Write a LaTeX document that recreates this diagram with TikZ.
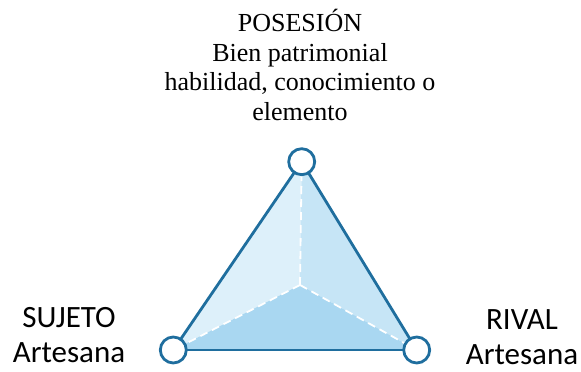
\documentclass[tikz,border=0pt]{standalone}
\usepackage{fontspec}
\setmainfont{Liberation Serif}
\newfontfamily\calib{Carlito}
\definecolor{edgeblue}{HTML}{1F6E9E}
\definecolor{faceA}{HTML}{DDF0FA}
\definecolor{faceB}{HTML}{C6E5F6}
\definecolor{faceC}{HTML}{A9D7F1}
\tikzset{
  vert/.style={circle,draw=edgeblue,fill=white,line width=2.8pt,minimum size=26pt,inner sep=0pt},
  side/.style={draw=edgeblue,line width=2.8pt},
  seam/.style={white,line width=1.8pt,dash pattern=on 8pt off 5pt},
  lbl/.style={font=\calib\fontsize{31}{35}\selectfont,align=center},
  toplbl/.style={font=\fontsize{26}{29.5}\selectfont,align=center}
}
\begin{document}
\begin{tikzpicture}[x=1pt,y=1pt]
      \useasboundingbox (0,0) rectangle (581,372);
      \coordinate (pos) at (301.7,210.3);
      \coordinate (suj) at (173.3,22);
      \coordinate (riv) at (416.7,22);
      \coordinate (c) at (300,87);
      \fill[faceA] (pos) -- (suj) -- (c) -- cycle;
      \fill[faceB] (pos) -- (c) -- (riv) -- cycle;
      \fill[faceC] (suj) -- (c) -- (riv) -- cycle;
      \begin{scope}[seam]
        \draw (c) to (pos);
        \draw (c) to (suj);
        \draw (c) to (riv);
      \end{scope}
      \begin{scope}[side]
        \draw (pos) to (suj);
        \draw (suj) to (riv);
        \draw (riv) to (pos);
      \end{scope}
      \node[vert] (npos) at (pos) {};
      \node[vert] (nsuj) at (suj) {};
      \node[vert] (nriv) at (riv) {};
      \node[toplbl] (tpos) at (300,307) {POSESIÓN\\Bien patrimonial\\habilidad, conocimiento o\\elemento};
      \node[lbl] (tsuj) at (69,37) {SUJETO\\Artesana};
      \node[lbl] (triv) at (522,35) {RIVAL\\Artesana};
    \end{tikzpicture}
\end{document}
